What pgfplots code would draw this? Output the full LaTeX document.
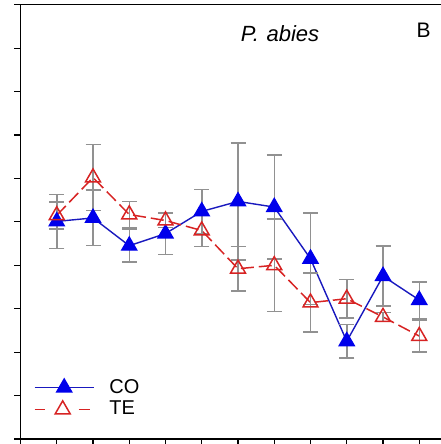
\documentclass[border=0pt]{standalone}
\usepackage{fontspec}
\setmainfont{Liberation Sans}
\usepackage{pgfplots}
\pgfplotsset{compat=1.18}
\definecolor{cob}{RGB}{0,0,235}
\definecolor{col}{RGB}{25,25,190}
\definecolor{ter}{RGB}{215,35,35}
\definecolor{errg}{RGB}{145,145,145}
\begin{document}
\begin{tikzpicture}
\begin{axis}[
  name=ax,
  scale only axis, width=210.25pt, height=217.15pt,
  xmin=0, xmax=11.6, ymin=0, ymax=10,
  axis lines=left, axis line style={-, line width=0.75pt, black},
  xtick={0,...,11}, ytick={0,...,10}, xticklabels={}, yticklabels={},
  xticklabel style={overlay}, yticklabel style={overlay},
  tick align=outside, major tick length=3pt, tick style={black, line width=0.6pt},
  clip=false,
  legend style={draw=none, fill=none, at={(axis cs:0.36,1.48)}, anchor=north west,
    font=\fontsize{10}{12}\selectfont, row sep=-1.5pt, inner sep=0pt},
  legend cell align=left,
  error bars/error bar style={errg, line width=0.75pt, solid},
  error bars/error mark=-,
  error bars/error mark options={rotate=90, errg, mark size=3.75pt, line width=0.75pt, solid},
]
\addplot[col, line width=0.7pt, mark=triangle*, mark size=4.3pt,
  mark options={solid, fill=cob, draw=cob},
  legend image code/.code={\draw[mark repeat=2, mark phase=2] plot coordinates {(0pt,0pt) (14.75pt,0pt) (29.5pt,0pt)}; \path (35pt,0pt);},
  error bars/.cd, y dir=both, y explicit] coordinates {
  (1,5.01) +- (0,0.62)
  (2,5.09) +- (0,0.64)
  (3,4.45) +- (0,0.38)
  (4,4.73) +- (0,0.48)
  (5,5.24) +- (0,0.51)
  (6,5.47) +- (0,1.35)
  (7,5.34) +- (0,1.20)
  (8,4.15) +- (0,1.05)
  (9,2.25) +- (0,0.39)
  (10,3.75) +- (0,0.69)
  (11,3.20) +- (0,0.42)
};
\addlegendentry{CO}
\addplot[ter, line width=0.75pt, dash pattern=on 6.5pt off 2.5pt, mark=triangle, mark size=4.3pt,
  mark options={solid, fill=white, draw=ter, line width=0.75pt},
  legend image code/.code={\draw[dash pattern=on 5pt off 17pt on 5.5pt off 100pt, mark repeat=2, mark phase=2] plot coordinates {(0pt,0pt) (14pt,0pt) (29.5pt,0pt)}; \path (35pt,0pt);},
  error bars/.cd, y dir=both, y explicit] coordinates {
  (1,5.15) +- (0,0.31)
  (2,6.02) +- (0,0.76)
  (3,5.17) +- (0,0.30)
  (4,5.03) +- (0,0.16)
  (5,4.80) +- (0,0.37)
  (6,3.92) +- (0,0.51)
  (7,4.00) +- (0,1.06)
  (8,3.14) +- (0,0.68)
  (9,3.23) +- (0,0.44)
  (10,2.81) +- (0,0.10)
  (11,2.37) +- (0,0.37)
};
\addlegendentry{TE}
\draw[line width=0.75pt, black] (rel axis cs:0,1) -- (rel axis cs:1,1);
\node[font=\fontsize{11}{13}\selectfont\itshape] at (axis cs:7.16,9.34) {P.\hspace{0.35em}abies};
\node[font=\fontsize{10.5}{12}\selectfont] at (axis cs:11.12,9.42) {B};
\end{axis}
\pgfresetboundingbox
\useasboundingbox ([xshift=-10.25pt,yshift=-2.5pt]ax.south west) rectangle ([yshift=2.35pt]ax.north east);
\end{tikzpicture}
\end{document}
